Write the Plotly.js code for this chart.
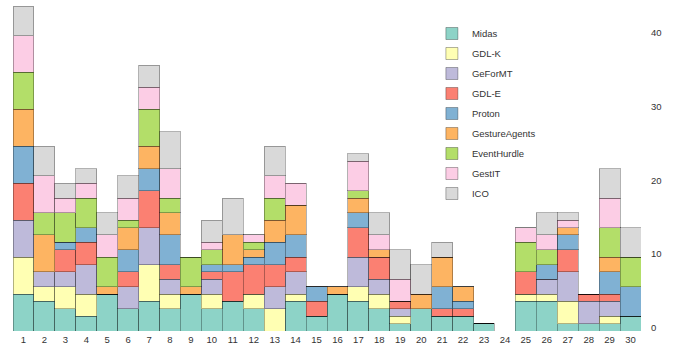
<!DOCTYPE html>
<html>
<head>
<meta charset="utf-8">
<script src="https://cdn.plot.ly/plotly-3.0.1.min.js"></script>
<style>html,body{margin:0;padding:0;background:#fff;}#chart{width:673px;height:343px;}</style>
</head>
<body>
<div id="chart"></div>
<script>
const categories = ['1','2','3','4','5','6','7','8','9','10','11','12','13','14','15','16','17','18','19','20','21','22','23','24','25','26','27','28','29','30'];
const seriesNames = ['Midas','GDL-K','GeForMT','GDL-E','Proton','GestureAgents','EventHurdle','GestIT','ICO'];
const colors = ['#8dd3c7','#ffffb3','#bebada','#fb8072','#80b1d3','#fdb462','#b3de69','#fccde5','#d9d9d9'];
//                 1 2 3 4 5 6 7 8 9 10 11 12 13 14 15 16 17 18 19 20 21 22 23 24 25 26 27 28 29 30
const midas =     [5,4,3,2,5,3,4,3,5,3, 4, 3, 0, 4, 2, 5, 4, 3, 1, 3, 2, 2, 1, 0, 4, 4, 1, 1, 1, 2];
const gdlK =      [5,2,3,3,0,0,5,2,0,2, 0, 2, 3, 1, 0, 0, 2, 2, 1, 0, 0, 0, 0, 0, 1, 1, 3, 0, 1, 0];
const geForMT =   [5,2,2,4,0,3,5,2,0,2, 0, 0, 3, 3, 0, 0, 4, 2, 1, 0, 0, 0, 0, 0, 0, 2, 4, 3, 2, 0];
const gdlE =      [5,0,3,3,0,2,5,2,0,1, 4, 4, 3, 2, 2, 0, 4, 3, 1, 0, 1, 1, 0, 0, 3, 0, 3, 1, 1, 0];
const proton =    [5,0,1,2,0,3,3,4,0,1, 1, 1, 3, 3, 2, 0, 2, 0, 0, 0, 3, 1, 0, 0, 0, 2, 2, 0, 3, 4];
const gestureAg = [5,5,0,0,1,3,3,3,1,0, 4, 1, 3, 4, 0, 1, 2, 1, 0, 2, 4, 2, 0, 0, 0, 0, 1, 0, 2, 0];
const eventHurdle=[5,3,4,4,4,1,5,2,4,2, 0, 1, 3, 0, 0, 0, 1, 0, 0, 0, 0, 0, 0, 0, 4, 2, 0, 0, 4, 4];
const gestIT =    [5,5,2,2,3,3,3,4,0,1, 0, 1, 3, 3, 0, 0, 4, 2, 3, 0, 0, 0, 0, 0, 2, 2, 1, 0, 4, 0];
const ico =       [4,4,2,2,3,3,3,5,0,3, 5, 0, 4, 0, 0, 0, 1, 3, 4, 4, 2, 0, 0, 0, 0, 3, 1, 0, 4, 4];
const seriesValues = [midas,gdlK,geForMT,gdlE,proton,gestureAg,eventHurdle,gestIT,ico];

const traces = seriesNames.map((name,i)=>({
  type:'bar', name:name, x:categories, y:seriesValues[i],
  legendgroup:name,
  marker:{color:colors[i], line:{color:'rgba(0,0,0,0.3)', width:1}},
  hoverinfo:'x+y+name'
}));

const layout = {
  width:673, height:343,
  margin:{l:13, r:32, t:6, b:12},
  barmode:'stack', bargap:0,
  paper_bgcolor:'#fff', plot_bgcolor:'#fff',
  font:{family:'"Liberation Sans", Arial, sans-serif', size:9.5, color:'#333'},
  xaxis:{type:'category', showgrid:false, zeroline:false, showline:false, ticks:'', ticklabelstandoff:1, tickfont:{size:9.5,color:'#333'}},
  yaxis:{side:'right', range:[0,44], dtick:10, showgrid:false, zeroline:false, showline:false, ticks:'', ticklabelstandoff:9, ticklabelshift:-3, tickfont:{size:9.5,color:'#333'}},
  legend:{x:0.667, y:0.96, xanchor:'left', yanchor:'top', bgcolor:'rgba(0,0,0,0)', font:{size:9.5,color:'#333'}, traceorder:'grouped', tracegroupgap:1, itemclick:false}
};
Plotly.newPlot('chart', traces, layout, {displayModeBar:false, staticPlot:true});
</script>
</body>
</html>
